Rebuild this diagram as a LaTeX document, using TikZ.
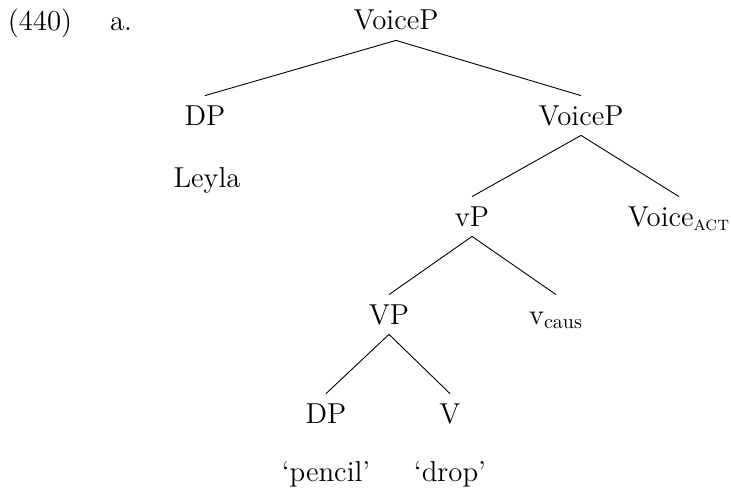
\documentclass[tikz,border=0pt]{standalone}
\begin{document}
\begin{tikzpicture}[x=1pt,y=1pt,font=\fontsize{14.4}{17.3}\selectfont,
  lab/.style={anchor=base,inner xsep=0pt,inner ysep=5pt,text height=9.5pt,text depth=0pt},
  leaf/.style={anchor=base,inner sep=0pt},
  edge/.style={draw=black,line width=0.45pt}]
\useasboundingbox (0,0) rectangle (365.5,244);
\node[leaf] (ex) at (20,228.5) {(440)};
\node[leaf] (exa) at (60.5,228.5) {a.};
\node[lab] (top) at (198,229) {VoiceP};
\node[lab] (dpa) at (102.5,181.5) {DP};
\node[lab] (vpb) at (290.5,181.5) {VoiceP};
\node[leaf] (leyla) at (103.5,150.5) {Leyla};
\node[lab] (vsp) at (236,131) {vP};
\node[lab] (vact) at (339.5,131) {Voice\textsubscript{\textsc{act}}};
\node[lab] (bigvp) at (194.5,82) {VP};
\node[lab] (vcaus) at (278,82) {v\textsubscript{caus}};
\node[lab] (dpb) at (163,32.5) {DP};
\node[lab] (verb) at (225,32.5) {V};
\node[leaf] (pencil) at (163,3.5) {`pencil'};
\node[leaf] (drop) at (225,3.5) {`drop'};
\draw[edge] (top.south) -- (dpa.north);
\draw[edge] (top.south) -- (vpb.north);
\draw[edge] (vpb.south) -- (vsp.north);
\draw[edge] (vpb.south) -- (vact.north);
\draw[edge] (vsp.south) -- (bigvp.north);
\draw[edge] (vsp.south) -- (vcaus.north);
\draw[edge] (bigvp.south) -- (dpb.north);
\draw[edge] (bigvp.south) -- (verb.north);
\end{tikzpicture}
\end{document}
